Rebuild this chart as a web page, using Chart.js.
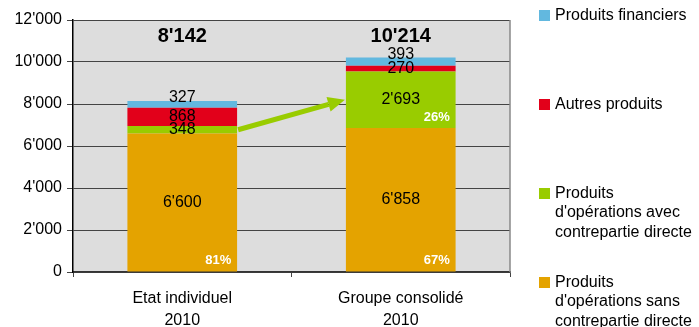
<!DOCTYPE html>
<html>
<head>
<meta charset="utf-8">
<script src="https://cdn.jsdelivr.net/npm/chart.js@4.4.0/dist/chart.umd.min.js"></script>
<style>
  body { margin: 0; background: #fff; font-family: "Liberation Sans", Arial, sans-serif; }
  #wrap { position: relative; width: 699px; height: 327px; }
  #legend .item { position: absolute; left: 539px; padding-left: 16px; font-size: 16px; line-height: 19.5px; color: #000; white-space: nowrap; }
  #legend .sw { position: absolute; left: 0; top: 5.5px; width: 11px; height: 11px; }
</style>
</head>
<body>
<div id="wrap">
  <canvas id="chart" width="699" height="327"></canvas>
  <div id="legend"></div>
</div>
<script>
// Produits 2010 : état individuel vs groupe consolidé
const categories = [["Etat individuel", "2010"], ["Groupe consolidé", "2010"]];
const sansContrepartie = [6600, 6858];
const avecContrepartie = [348, 2693];
const autresProduits = [868, 270];
const produitsFinanciers = [327, 393];
const totals = [8142, 10214];
const yTicks = [0, 2000, 4000, 6000, 8000, 10000, 12000];

const seriesNames = [
  ["Produits d'opérations sans", "contrepartie directe"],
  ["Produits d'opérations avec", "contrepartie directe"],
  ["Autres produits"],
  ["Produits financiers"]
];
const legendNames = [
  ["Produits financiers"],
  ["Autres produits"],
  ["Produits", "d'opérations avec", "contrepartie directe"],
  ["Produits", "d'opérations sans", "contrepartie directe"]
];
const colors = ["#E4A300", "#99CC00", "#E2001A", "#62B8DF"];

// 6600 -> 6'600
const fmt = v => String(v).replace(/\B(?=(\d{3})+(?!\d))/g, "'");

Chart.defaults.font.family = '"Liberation Sans", Arial, sans-serif';
Chart.defaults.color = '#000';

// legende a droite
const legend = document.getElementById('legend');
legendNames.forEach((lines, k) => {
  const item = document.createElement('div');
  item.className = 'item';
  item.style.top = (4.5 + k * 89) + 'px';
  const sw = document.createElement('span');
  sw.className = 'sw';
  sw.style.background = colors[3 - k];
  item.appendChild(sw);
  item.insertAdjacentHTML('beforeend', lines.join('<br>'));
  legend.appendChild(item);
});

const labelOffset = [0, 0, 0, -7];   // decalage vertical des valeurs par serie
const showShare = [true, true, false, false];

const decor = {
  id: 'decor',
  beforeDraw(chart) {
    const { ctx, chartArea: a } = chart;
    ctx.save();
    ctx.fillStyle = '#DDDDDD';
    ctx.fillRect(a.left, a.top, a.right - a.left, a.bottom - a.top);
    ctx.restore();
  },
  afterDatasetsDraw(chart) {
    const { ctx, chartArea: a } = chart;
    ctx.save();
    // bord droit
    ctx.strokeStyle = '#888';
    ctx.lineWidth = 1.5;
    ctx.beginPath();
    ctx.moveTo(a.right, a.top);
    ctx.lineTo(a.right, a.bottom);
    ctx.stroke();

    // fleche verte entre les deux barres
    const g = chart.getDatasetMeta(1).data;
    const x0 = g[0].x + g[0].width / 2 + 1, y0 = (g[0].y + g[0].base) / 2;
    const x1 = g[1].x - g[1].width / 2 - 1, y1 = (g[1].y + g[1].base) / 2;
    const ang = Math.atan2(y1 - y0, x1 - x0);
    const headLen = 17, headHalf = 7.5;
    const bx = x1 - headLen * Math.cos(ang), by = y1 - headLen * Math.sin(ang);
    ctx.strokeStyle = '#99CC00';
    ctx.fillStyle = '#99CC00';
    ctx.lineWidth = 5;
    ctx.beginPath();
    ctx.moveTo(x0, y0);
    ctx.lineTo(bx, by);
    ctx.stroke();
    ctx.beginPath();
    ctx.moveTo(x1, y1);
    ctx.lineTo(bx + headHalf * Math.sin(ang), by - headHalf * Math.cos(ang));
    ctx.lineTo(bx - headHalf * Math.sin(ang), by + headHalf * Math.cos(ang));
    ctx.closePath();
    ctx.fill();

    // valeurs et parts
    ctx.textAlign = 'center';
    ctx.textBaseline = 'middle';
    chart.data.datasets.forEach((ds, d) => {
      chart.getDatasetMeta(d).data.forEach((el, i) => {
        const v = ds.data[i];
        ctx.fillStyle = '#000';
        ctx.font = '16px "Liberation Sans", Arial, sans-serif';
        ctx.fillText(fmt(v), el.x, (el.y + el.base) / 2 + labelOffset[d]);
        const share = v / totals[i];
        if (showShare[d] && share >= 0.2) {
          ctx.fillStyle = '#fff';
          ctx.font = 'bold 13px "Liberation Sans", Arial, sans-serif';
          ctx.fillText(Math.round(share * 100) + '%', el.x + 36, el.base - 11);
        }
      });
    });

    // totaux
    ctx.fillStyle = '#000';
    ctx.font = 'bold 20px "Liberation Sans", Arial, sans-serif';
    chart.getDatasetMeta(3).data.forEach((el, i) => {
      ctx.fillText(fmt(totals[i]), el.x, a.top + 16);
    });
    ctx.restore();
  }
};

new Chart(document.getElementById('chart'), {
  type: 'bar',
  data: {
    labels: categories,
    datasets: [sansContrepartie, avecContrepartie, autresProduits, produitsFinanciers].map((data, d) => ({
      label: seriesNames[d].join(' '),
      data: data,
      backgroundColor: colors[d],
      borderWidth: 0,
      categoryPercentage: 1,
      barPercentage: 0.502
    }))
  },
  options: {
    responsive: false,
    animation: false,
    layout: { padding: { top: 20, right: 189, left: 0, bottom: 0 } },
    plugins: { legend: { display: false }, tooltip: { enabled: false } },
    scales: {
      x: {
        stacked: true,
        grid: { drawOnChartArea: false, tickLength: 5, color: '#444', offset: true },
        border: { color: '#333', width: 1.5 },
        ticks: { font: { size: 16, lineHeight: 1.35 }, padding: 11, maxRotation: 0 },
        afterFit(s) { s.height = 55; }
      },
      y: {
        stacked: true,
        min: 0,
        max: 12000,
        afterBuildTicks(s) { s.ticks = yTicks.map(v => ({ value: v })); },
        grid: { color: '#444', lineWidth: 1, tickLength: 6 },
        border: { color: '#000', width: 1.5 },
        ticks: { font: { size: 16 }, padding: 5, callback: v => fmt(v) },
        afterFit(s) { s.width = 73; }
      }
    }
  },
  plugins: [decor]
});
</script>
</body>
</html>
